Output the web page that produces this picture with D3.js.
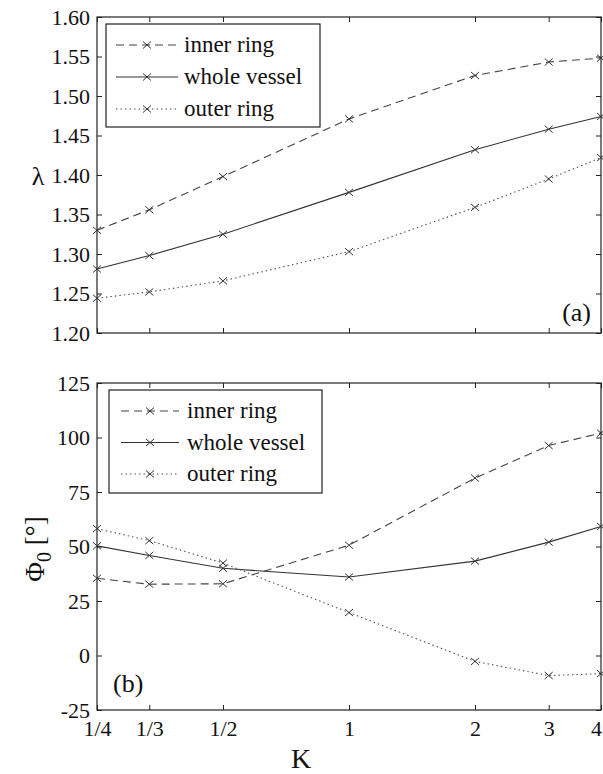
<!DOCTYPE html>
<html lang="en">
<head>
<meta charset="UTF-8" />
<script src="https://d3js.org/d3.v7.min.js"></script>
<title>lambda and Phi0 vs K</title>
<style>
  body { margin: 0; background: #fff; }
  svg text { font-family: "Liberation Serif", "Times New Roman", "DejaVu Serif", serif; fill: #111; }
</style>
</head>
<body>
<svg id="chart" width="603" height="774"></svg>
<script>
// K values and their tick labels
const kValues = [1/4, 1/3, 1/2, 1, 2, 3, 4];
const kLabels = ['1/4', '1/3', '1/2', '1', '2', '3', '4'];

// series names
const seriesNames = ['inner ring', 'whole vessel', 'outer ring'];

// panel (a): lambda
const lambdaInner = [1.330, 1.356, 1.398, 1.471, 1.526, 1.543, 1.548];
const lambdaWhole = [1.281, 1.298, 1.325, 1.378, 1.432, 1.458, 1.474];
const lambdaOuter = [1.244, 1.252, 1.266, 1.303, 1.359, 1.395, 1.422];
const lambdaTicks = [1.20, 1.25, 1.30, 1.35, 1.40, 1.45, 1.50, 1.55, 1.60];

// panel (b): Phi0 in degrees
const phiInner = [35.4, 32.7, 32.9, 50.6, 81.4, 96.3, 102.0];
const phiWhole = [50.3, 45.9, 40.0, 36.0, 43.3, 52.0, 59.2];
const phiOuter = [58.2, 52.7, 42.4, 19.7, -2.7, -9.2, -8.3];
const phiTicks = [-25, 0, 25, 50, 75, 100, 125];

const svg = d3.select('#chart');
const serif = '"Liberation Serif", "Times New Roman", "DejaVu Serif", serif';

const left = 97, right = 601;
const x = d3.scaleLog().base(2).domain([1/4, 4]).range([left, right]);

const styles = [
  { dash: '8,5', color: '#444' },
  { dash: null, color: '#333' },
  { dash: '1.5,3', color: '#555' }
];

const crossPath = 'M-4,-3.5L4,3.5M-4,3.5L4,-3.5';

function drawPanel(cfg) {
  const y = d3.scaleLinear().domain(cfg.domain).range([cfg.bottom, cfg.top]);
  const g = svg.append('g');

  // axes with inward ticks on all four sides
  const leftAxis = d3.axisLeft(y).tickValues(cfg.ticks).tickFormat(cfg.fmt)
    .tickSizeInner(-5).tickSizeOuter(0).tickPadding(7);
  const la = g.append('g').attr('transform', `translate(${left},0)`).call(leftAxis);
  la.attr('font-family', serif);
  la.selectAll('text').style('font-size', '22px').attr('dy', '0.33em');

  g.append('g').attr('transform', `translate(${right},0)`)
    .call(d3.axisRight(y).tickValues(cfg.ticks).tickFormat('').tickSizeInner(-5).tickSizeOuter(0));

  g.append('g').attr('transform', `translate(0,${cfg.top})`)
    .call(d3.axisTop(x).tickValues(kValues).tickFormat('').tickSizeInner(-5).tickSizeOuter(0));

  const bottomAxis = d3.axisBottom(x).tickValues(kValues)
    .tickFormat(cfg.xLabels ? (d, i) => kLabels[i] : '')
    .tickSizeInner(-5).tickSizeOuter(0).tickPadding(10);
  const ba = g.append('g').attr('transform', `translate(0,${cfg.bottom})`).call(bottomAxis);
  ba.attr('font-family', serif);
  ba.selectAll('text').style('font-size', '22px')
    .attr('dx', (d, i) => i === kValues.length - 1 ? -5 : 0);

  g.selectAll('.domain').remove();
  g.selectAll('.tick line').attr('stroke', '#222');

  g.append('rect')
    .attr('x', left).attr('y', cfg.top)
    .attr('width', right - left).attr('height', cfg.bottom - cfg.top)
    .attr('fill', 'none').attr('stroke', '#222').attr('stroke-width', 1.2);

  // series
  const line = d3.line().x((d, i) => x(kValues[i])).y(d => y(d));
  cfg.series.forEach((vals, s) => {
    const st = styles[s];
    g.append('path').datum(vals)
      .attr('d', line)
      .attr('fill', 'none')
      .attr('stroke', st.color)
      .attr('stroke-width', 1.1)
      .attr('stroke-dasharray', st.dash);
    g.selectAll(null).data(vals).enter().append('path')
      .attr('d', crossPath)
      .attr('transform', (d, i) => `translate(${x(kValues[i])},${y(d)})`)
      .attr('fill', 'none').attr('stroke', '#333').attr('stroke-width', 1);
  });

  // legend
  const lg = cfg.legend;
  g.append('rect')
    .attr('x', lg.x).attr('y', lg.y).attr('width', lg.w).attr('height', lg.h)
    .attr('fill', '#fff').attr('stroke', '#222').attr('stroke-width', 1.2);
  seriesNames.forEach((name, s) => {
    const st = styles[s];
    const ry = lg.y + lg.row0 + s * lg.step;
    g.append('line')
      .attr('x1', lg.x + lg.lx0).attr('x2', lg.x + lg.lx1)
      .attr('y1', ry).attr('y2', ry)
      .attr('stroke', st.color).attr('stroke-width', 1.1)
      .attr('stroke-dasharray', st.dash);
    g.append('path').attr('d', crossPath)
      .attr('transform', `translate(${lg.x + (lg.lx0 + lg.lx1) / 2},${ry})`)
      .attr('fill', 'none').attr('stroke', '#333');
    g.append('text')
      .attr('x', lg.x + lg.tx).attr('y', ry + 7)
      .style('font-size', '23px')
      .text(name);
  });

  // panel tag
  g.append('text')
    .attr('x', cfg.tag.x).attr('y', cfg.tag.y)
    .attr('text-anchor', cfg.tag.anchor)
    .style('font-size', '26px')
    .text(cfg.tag.text);
}

drawPanel({
  top: 17, bottom: 333,
  domain: [1.2, 1.6], ticks: lambdaTicks, fmt: d3.format('.2f'),
  series: [lambdaInner, lambdaWhole, lambdaOuter],
  xLabels: false,
  legend: { x: 106, y: 24, w: 214, h: 103, row0: 21, step: 32, lx0: 10, lx1: 72, tx: 78 },
  tag: { x: 591, y: 321, anchor: 'end', text: '(a)' }
});

drawPanel({
  top: 383, bottom: 710,
  domain: [-25, 125], ticks: phiTicks, fmt: d => String(d),
  series: [phiInner, phiWhole, phiOuter],
  xLabels: true,
  legend: { x: 109, y: 390, w: 213, h: 103, row0: 21, step: 31.5, lx0: 12, lx1: 70, tx: 78 },
  tag: { x: 113, y: 692, anchor: 'start', text: '(b)' }
});

// axis titles
svg.append('text')
  .attr('x', 301).attr('y', 768)
  .attr('text-anchor', 'middle')
  .style('font-size', '28px')
  .text('K');

svg.append('text')
  .attr('x', 38).attr('y', 185)
  .attr('text-anchor', 'middle')
  .style('font-size', '26px')
  .text('λ');

const phiLabel = svg.append('text')
  .attr('transform', 'translate(44,549) rotate(-90)')
  .attr('text-anchor', 'middle')
  .style('font-size', '27px');
phiLabel.append('tspan').text('Φ');
phiLabel.append('tspan').attr('dy', 7).style('font-size', '20px').text('0');
phiLabel.append('tspan').attr('dy', -7).text(' [°]');
</script>
</body>
</html>
